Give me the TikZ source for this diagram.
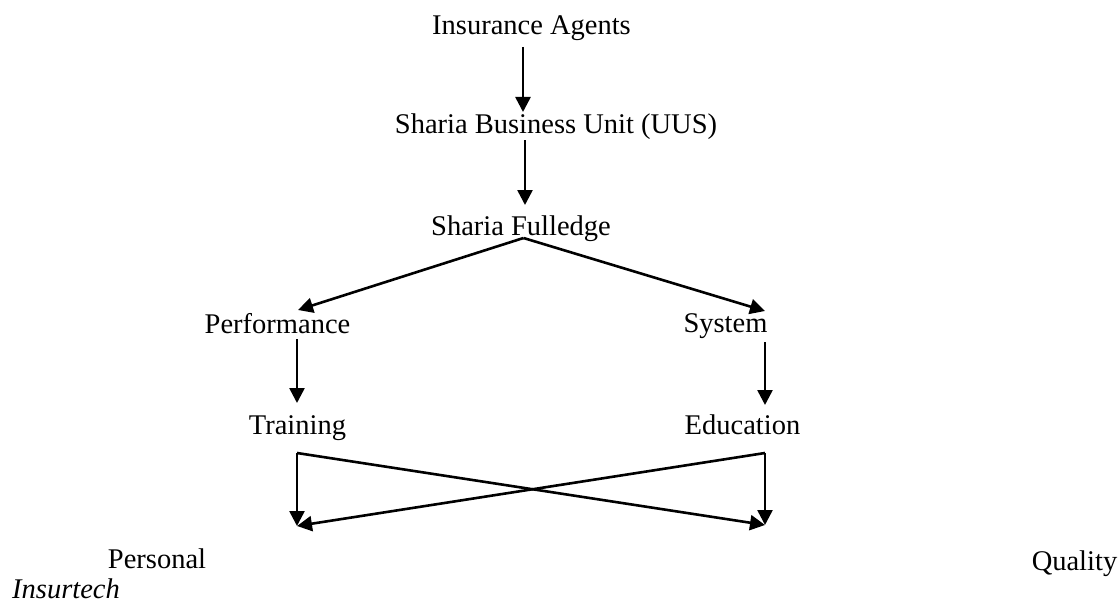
\documentclass[tikz,border=0pt]{standalone}
\usepackage{fontspec}
\setmainfont{Liberation Serif}
\usetikzlibrary{arrows.meta,calc}
\begin{document}
\begin{tikzpicture}[x=1pt,y=-1pt,
  lbl/.style={anchor=base,inner sep=0pt,font=\fontsize{28.5}{34}\selectfont},
  arr/.style={line width=2.6pt,-{Triangle[length=15pt,width=15pt]}}]
\useasboundingbox (0,0) rectangle (1120,602);
\node[lbl] (ia) at (531.5,35) {Insurance Agents};
\node[lbl] (sbu) at (556,133) {Sharia Business Unit (UUS)};
\node[lbl] (sf) at (521,235) {Sharia Fulledge};
\node[lbl] (perf) at (277.5,333) {Performance};
\node[lbl] (sys) at (725.5,332) {System};
\node[lbl] (tr) at (297.5,434) {Training};
\node[lbl] (ed) at (742.5,434) {Education};
\node[lbl] (pers) at (157,568) {Personal};
\node[lbl] (qual) at (1074.5,570) {Quality};
\node[lbl,font=\fontsize{28.5}{34}\selectfont\itshape] (ins) at (66,598) {Insurtech};
\coordinate (p1) at (297,526);
\coordinate (p2) at (765,525);
\draw[arr] ($(ia.base)+(-8.5,12)$) -- ($(sbu.base)+(-33,-21)$);
\draw[arr] ($(sbu.base)+(-31,7)$) -- ($(sf.base)+(4,-30)$);
\draw[arr] ($(sf.base)+(2.5,3)$) -- ($(perf.base)+(20.5,-23)$);
\draw[arr] ($(sf.base)+(2.5,3)$) -- ($(sys.base)+(39.5,-21)$);
\draw[arr] ($(perf.base)+(19.5,6)$) -- ($(tr.base)+(-0.5,-31)$);
\draw[arr] ($(sys.base)+(39.5,10)$) -- ($(ed.base)+(22.5,-29)$);
\draw[arr] ($(tr.base)+(-0.5,19)$) -- (p1);
\draw[arr] ($(tr.base)+(-0.5,19)$) -- (p2);
\draw[arr] ($(ed.base)+(22.5,19)$) -- (p2);
\draw[arr] ($(ed.base)+(22.5,19)$) -- (p1);
\end{tikzpicture}
\end{document}
